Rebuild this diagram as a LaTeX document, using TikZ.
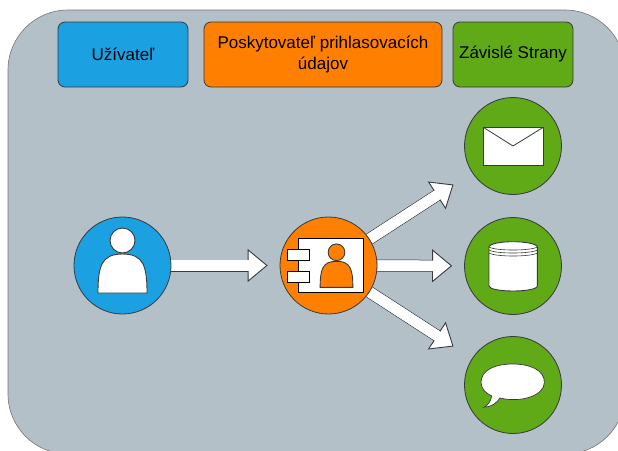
\documentclass[tikz,border=0pt]{standalone}
\usepackage{fontspec}
\setmainfont{Liberation Sans}
\usetikzlibrary{arrows.meta,backgrounds}
\definecolor{panelgray}{HTML}{B4C0C8}
\definecolor{userblue}{HTML}{1BA1E2}
\definecolor{idporange}{HTML}{FF8000}
\definecolor{rpgreen}{HTML}{60A917}
\definecolor{edgegray}{HTML}{36393D}
\tikzset{
    headbox/.style={draw=edgegray,line width=.8pt,rounded corners=7pt,minimum height=65pt,align=center,inner sep=0pt,font=\fontsize{17}{21}\selectfont},
    rolecircle/.style={draw=edgegray,line width=.8pt,circle,minimum size=97pt,inner sep=0pt},
    icon/.style={draw=edgegray,line width=.9pt,fill=white},
    flowarrow/.style={white,line width=10.5pt,shorten >=#1,
        -{Triangle[length=20pt,width=33pt,color=edgegray,fill=white,line width=.9pt]},
        preaction={draw=edgegray,line width=12pt,-,shorten >=#1+19pt},
        postaction={draw=white,line width=10.5pt,-,shorten >=#1+17pt}},
    person/.pic={
        \draw[pic actions] (-24.5,0) .. controls (-24.5,-27) and (-21,-39) .. (0,-39)
            .. controls (21,-39) and (24.5,-27) .. (24.5,0) -- cycle;
        \draw[pic actions] (0,-52.5) circle (12.5);
    }
}
\begin{document}
\begin{tikzpicture}[x=1pt,y=-1pt]
    \useasboundingbox (0,0) rectangle (618,450);
    \begin{scope}[on background layer]
        \fill[panelgray,draw=edgegray!70,line width=.6pt,rounded corners=60pt] (8,10) rectangle (625,454);
    \end{scope}
    % header row
    \node[headbox,fill=userblue,minimum width=130pt] (userhead) at (123,54.5) {Užívateľ};
    \node[headbox,fill=idporange,minimum width=238pt] (idphead) at (323,54.5) {Poskytovateľ prihlasovacích\\údajov};
    \node[headbox,fill=rpgreen,minimum width=120pt] (rphead) at (513,54.5) {Závislé Strany};
    % role circles
    \node[rolecircle,fill=userblue] (userdot) at (122.5,265.5) {};
    \node[rolecircle,fill=idporange] (idpdot) at (328.5,265.5) {};
    \node[rolecircle,fill=rpgreen] (maildot) at (513,146) {};
    \node[rolecircle,fill=rpgreen] (dbdot) at (513,266) {};
    \node[rolecircle,fill=rpgreen] (chatdot) at (513,385) {};
    % arrows
    \begin{scope}[on background layer]
        \draw[flowarrow=12pt] (userdot) -- (idpdot);
        \draw[flowarrow=22pt] (idpdot) -- (maildot);
        \draw[flowarrow=12pt] (idpdot) -- (dbdot);
        \draw[flowarrow=22pt] (idpdot) -- (chatdot);
    \end{scope}
    % user
    \pic[icon] at (122.5,293) {person};
    % identity provider
    \draw[icon,draw=black] (298.7,238.3) rectangle (363.3,292.7);
    \draw[icon,draw=black] (287.7,249.3) rectangle (309.3,260);
    \draw[icon,draw=black] (287.7,271.3) rectangle (309.3,282);
    \pic[icon,fill=idporange,scale=.667] at (336.5,287.3) {person};
    % mail
    \draw[icon] (483.3,127.3) rectangle (543.3,165.7);
    \draw[edgegray,line width=.8pt] (483.3,127.3) -- (513,146) -- (543.3,127.3);
    % storage
    \draw[icon] (489,247) -- (489,286) .. controls (489,289) and (500,291) .. (513,291)
        .. controls (526,291) and (537.3,289) .. (537.3,286) -- (537.3,247)
        .. controls (537.3,244) and (526,241.7) .. (513,241.7)
        .. controls (500,241.7) and (489,244) .. (489,247) -- cycle;
    \foreach \ringy in {247,250,253} {
        \draw[edgegray,line width=.6pt] (489,\ringy) .. controls (495,\ringy+4) and (531,\ringy+4) .. (537.3,\ringy);
    }
    % speech bubble
    \draw[icon,line width=.7pt] (491.7,396) .. controls (491,401) and (488,405) .. (484,407.3)
        .. controls (491,407) and (497,403) .. (500,398)
        .. controls (520,403) and (544.4,396) .. (544.4,382.3)
        .. controls (544.4,370) and (530,364) .. (512.7,364)
        .. controls (495,364) and (481,370) .. (481,382.3)
        .. controls (481,388) and (485,393) .. (491.7,396) -- cycle;
\end{tikzpicture}
\end{document}
